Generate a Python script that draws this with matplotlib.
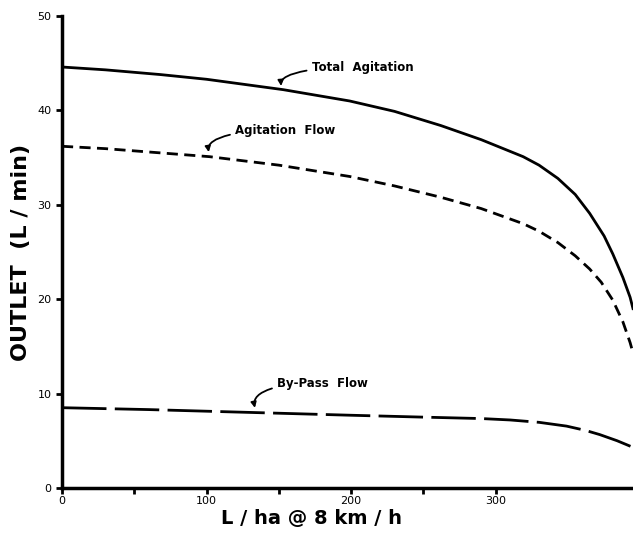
import matplotlib.pyplot as plt

# values
x_total = [0, 30, 68, 100, 153, 199, 230, 262, 290, 319, 330, 343, 355, 365, 375, 381, 388, 393, 395]
y_total = [44.6, 44.3, 43.8, 43.3, 42.2, 41.0, 39.9, 38.4, 36.9, 35.1, 34.2, 32.8, 31.1, 29.1, 26.7, 24.8, 22.3, 20.2, 19.0]

x_agit = [0, 30, 102, 150, 199, 230, 262, 290, 319, 330, 343, 355, 365, 373, 381, 388, 393, 395]
y_agit = [36.2, 35.95, 35.1, 34.2, 33.0, 32.0, 30.8, 29.6, 28.0, 27.2, 26.0, 24.6, 23.2, 21.8, 19.9, 17.6, 15.4, 14.3]

x_bypass = [0, 60, 130, 200, 250, 290, 310, 330, 349, 362, 372, 384, 395]
y_bypass = [8.5, 8.3, 8.0, 7.7, 7.5, 7.35, 7.2, 6.95, 6.55, 6.1, 5.65, 5.0, 4.3]

xticks = [0, 100, 200, 300]
xminor = [50, 150, 250]
yticks = [0, 10, 20, 30, 40, 50]

fig = plt.figure(figsize=(6.33, 5.35), dpi=100)
ax = fig.add_axes([0.098, 0.088, 0.902, 0.882])

lw = 2.0
ax.plot(x_total, y_total, color='black', lw=lw)
ax.plot(x_agit, y_agit, color='black', lw=lw, dashes=(4, 2.3))
ax.plot(x_bypass, y_bypass, color='black', lw=lw, dashes=(16, 3))

ax.set_xlim(0, 395)
ax.set_ylim(0, 50)

for s in ['top', 'right']:
	ax.spines[s].set_visible(False)
for s in ['left', 'bottom']:
	ax.spines[s].set_linewidth(2.5)

ax.set_xticks(xticks)
ax.set_xticks(xminor, minor=True)
ax.set_yticks(yticks)
ax.tick_params(axis='both', which='both', direction='out', width=2, length=4, labelsize=8)
ax.tick_params(axis='x', which='minor', labelbottom=False)
ax.tick_params(axis='x', pad=2)

ax.set_ylabel('OUTLET  (L / min)', fontsize=16, fontweight='bold', labelpad=5)
ax.set_xlabel('L / ha @ 8 km / h', fontsize=14, fontweight='bold')
ax.xaxis.set_label_coords(0.437, -0.045)

arrow = dict(arrowstyle='-|>', color='black', lw=1.3, mutation_scale=8,
	connectionstyle='angle3,angleA=0,angleB=-70')
ax.annotate('Total  Agitation', xy=(152, 42.3), xytext=(173, 44.6), fontsize=8.5,
	fontweight='bold', va='center', arrowprops=arrow)
ax.annotate('Agitation  Flow', xy=(102, 35.3), xytext=(120, 37.9), fontsize=8.5,
	fontweight='bold', va='center', arrowprops=arrow)
ax.annotate('By-Pass  Flow', xy=(134, 8.2), xytext=(149, 11.1), fontsize=8.5,
	fontweight='bold', va='center', arrowprops=arrow)

fig.savefig('out.png', dpi=100)
